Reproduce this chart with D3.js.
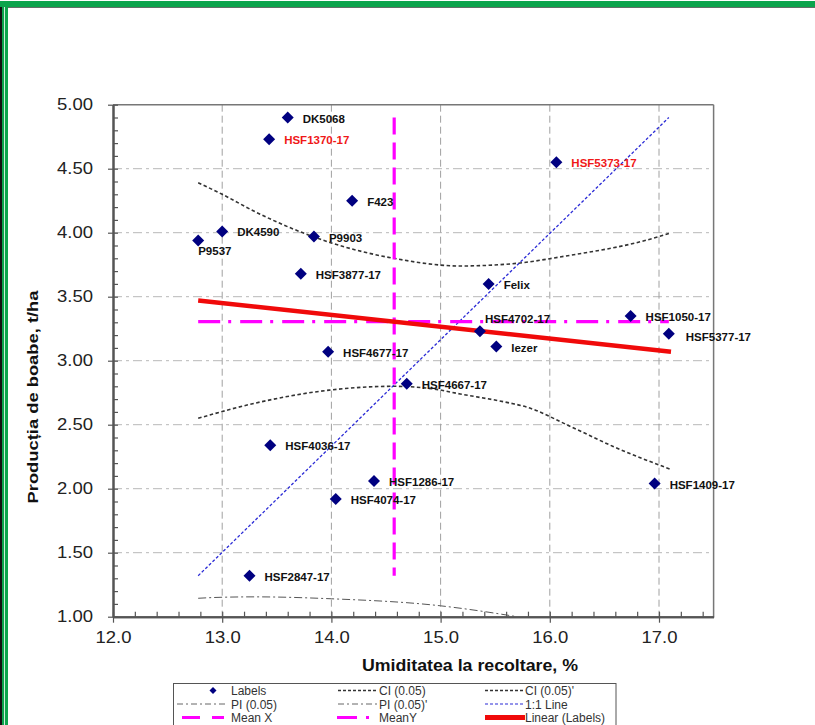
<!DOCTYPE html>
<html><head><meta charset="utf-8">
<script src="https://cdn.jsdelivr.net/npm/d3@7"></script>
<style>body{margin:0;background:#fff}</style>
</head><body><svg id="c" width="815" height="725"></svg>
<script>
// ---------------- DATA ----------------
const names = ["DK5068","HSF1370-17","HSF5373-17","F423","DK4590","P9537","P9903","HSF3877-17","Felix","HSF4702-17","lezer","HSF1050-17","HSF5377-17","HSF1409-17","HSF4677-17","HSF4667-17","HSF4036-17","HSF1286-17","HSF4074-17","HSF2847-17"];
const moisture = [13.60,13.43,16.06,14.19,13.00,12.78,13.84,13.72,15.44,15.36,15.51,16.74,17.09,16.96,13.97,14.69,13.44,14.39,14.04,13.25];
const yieldT   = [4.90,4.73,4.55,4.25,4.01,3.94,3.97,3.68,3.60,3.23,3.11,3.35,3.21,2.04,3.07,2.82,2.34,2.06,1.92,1.32];
const highlighted = ["HSF1370-17","HSF5373-17"];

const xTickValues = [12,13,14,15,16,17];
const yTickValues = [1,1.5,2,2.5,3,3.5,4,4.5,5];

const ciUpperX = [12.78,13.00,13.31,14.00,14.57,15.18,15.69,16.09,17.00,17.11];
const ciUpperY = [4.39,4.30,4.16,3.92,3.80,3.74,3.76,3.81,3.97,4.00];
const ciLowerX = [12.78,13.31,13.98,14.57,14.93,15.18,15.63,15.78,16.18,16.58,17.11];
const ciLowerY = [2.55,2.67,2.77,2.80,2.78,2.74,2.67,2.64,2.49,2.33,2.15];
const piLowerX = [12.78,13.00,13.30,14.00,15.00,15.40,15.70];
const piLowerY = [1.144,1.152,1.155,1.14,1.085,1.04,1.00];
const oneToOneX = [12.78,17.09];
const oneToOneY = [1.32,4.90];
const linearX = [12.78,17.11];
const linearY = [3.47,3.07];
const meanXValue = 14.575;
const meanYValue = 3.305;

const legendLabels = [["Labels","CI (0.05)","CI (0.05)'"],["PI (0.05)","PI (0.05)'","1:1 Line"],["Mean X","MeanY","Linear (Labels)"]];
const xTitle = "Umiditatea la recoltare, %";
const yTitle = "Producția de boabe, t/ha";

// ---------------- LAYOUT ----------------
const FONT = "'Liberation Sans', Arial, sans-serif";
const svg = d3.select("#c");
const L = 113, R = 713.6, T = 104.7, B = 616.7;
const x = d3.scaleLinear().domain([12,17.5]).range([L,R]);
const y = d3.scaleLinear().domain([1,5]).range([B,T]);

// frame
svg.append("rect").attr("x",0).attr("y",0).attr("width",815).attr("height",725).attr("fill","#fff");
svg.append("rect").attr("x",0).attr("y",1).attr("width",815).attr("height",6).attr("fill","#0ba44c");
svg.append("rect").attr("x",8).attr("y",7).attr("width",807).attr("height",0.8).attr("fill","#3b4a40");
svg.append("rect").attr("x",0).attr("y",7).attr("width",2).attr("height",718).attr("fill","#111");
svg.append("rect").attr("x",2).attr("y",7).attr("width",2.2).attr("height",718).attr("fill","#0ba44c");
svg.append("rect").attr("x",5).attr("y",7).attr("width",3).attr("height",718).attr("fill","#0ba44c");

svg.append("defs").append("clipPath").attr("id","plotclip")
  .append("rect").attr("x",L).attr("y",T).attr("width",R-L).attr("height",B-T);

// grid
const grid = svg.append("g");
[1.5,2,2.5,3,3.5,4,4.5].forEach(v=>{
  grid.append("line").attr("x1",L).attr("x2",R).attr("y1",y(v)).attr("y2",y(v))
    .attr("stroke","#b8b8b8").attr("stroke-width",1).attr("stroke-dasharray","9,4,3,4");
});
[13,14,15,16,17].forEach(v=>{
  grid.append("line").attr("y1",T).attr("y2",B).attr("x1",x(v)).attr("x2",x(v))
    .attr("stroke","#a0a0a0").attr("stroke-width",1).attr("stroke-dasharray","7,4");
});

// border top/right
svg.append("line").attr("x1",L).attr("x2",R).attr("y1",T).attr("y2",T).attr("stroke","#777").attr("stroke-width",1.5);
svg.append("line").attr("x1",R).attr("x2",R).attr("y1",T).attr("y2",B).attr("stroke","#777").attr("stroke-width",1.5);

// axes
const yMinor = d3.range(1,5.001,0.1);
const xMinor = d3.range(12,17.501,0.2);
const gy = svg.append("g").attr("transform",`translate(${L},0)`)
  .call(d3.axisLeft(y).tickValues(yTickValues).tickFormat(d3.format(".2f")).tickSize(5).tickSizeOuter(0).tickPadding(15));
const gy2 = svg.append("g").attr("transform",`translate(${L},0)`)
  .call(d3.axisLeft(y).tickValues(yMinor).tickFormat("").tickSize(-5).tickSizeOuter(0));
const gx = svg.append("g").attr("transform",`translate(0,${B})`)
  .call(d3.axisBottom(x).tickValues(xTickValues).tickFormat(d3.format(".1f")).tickSize(6).tickSizeOuter(0).tickPadding(9));
const gx2 = svg.append("g").attr("transform",`translate(0,${B})`)
  .call(d3.axisBottom(x).tickValues(xMinor).tickFormat("").tickSize(-5).tickSizeOuter(0));
[gy,gy2,gx,gx2].forEach(g=>{
  g.selectAll(".domain").attr("stroke","#555").attr("stroke-width",2);
  g.selectAll(".tick line").attr("stroke","#555").attr("stroke-width",1.2);
  g.selectAll(".tick text").attr("font-family",FONT).attr("font-size",16.5).attr("fill","#222");
});
// slight horizontal stretch of tick labels, as in the reference
[gy,gx].forEach(g=>g.selectAll(".tick text").each(function(){
  const w = this.getComputedTextLength();
  d3.select(this).attr("textLength",w*1.12).attr("lengthAdjust","spacingAndGlyphs");
}));

// titles
svg.append("text").attr("x",470).attr("y",671).attr("text-anchor","middle")
  .attr("font-family",FONT).attr("font-weight","bold").attr("font-size",16).attr("fill","#111")
  .attr("textLength",216).attr("lengthAdjust","spacingAndGlyphs").text(xTitle);
svg.append("text").attr("transform","translate(38,397) rotate(-90)").attr("text-anchor","middle")
  .attr("font-family",FONT).attr("font-weight","bold").attr("font-size",15.5).attr("fill","#111")
  .attr("textLength",213).attr("lengthAdjust","spacingAndGlyphs").text(yTitle);

// curves
const plot = svg.append("g").attr("clip-path","url(#plotclip)");
const lineGen = d3.line().x(d=>x(d[0])).y(d=>y(d[1]));
const smooth = d3.line().x(d=>x(d[0])).y(d=>y(d[1])).curve(d3.curveMonotoneX);
const zip = (a,b)=>a.map((v,i)=>[v,b[i]]);

plot.append("path").datum(zip(piLowerX,piLowerY)).attr("d",smooth).attr("fill","none")
  .attr("stroke","#555").attr("stroke-width",1).attr("stroke-dasharray","8,3,2,3");
plot.append("path").datum(zip(ciUpperX,ciUpperY)).attr("d",smooth).attr("fill","none")
  .attr("stroke","#333").attr("stroke-width",1.6).attr("stroke-dasharray","3.5,2.5");
plot.append("path").datum(zip(ciLowerX,ciLowerY)).attr("d",smooth).attr("fill","none")
  .attr("stroke","#333").attr("stroke-width",1.6).attr("stroke-dasharray","3.5,2.5");
plot.append("path").datum(zip(oneToOneX,oneToOneY)).attr("d",lineGen).attr("fill","none")
  .attr("stroke","#2b2bd6").attr("stroke-width",1.3).attr("stroke-dasharray","3,2");
// mean X (vertical, spans min..max of yield)
plot.append("line").attr("x1",x(meanXValue)).attr("x2",x(meanXValue))
  .attr("y1",y(d3.max(yieldT))).attr("y2",y(d3.min(yieldT)))
  .attr("stroke","#ff00ff").attr("stroke-width",3.2).attr("stroke-dasharray","17,8");
// mean Y (horizontal, spans min..max of moisture)
plot.append("line").attr("y1",y(meanYValue)).attr("y2",y(meanYValue))
  .attr("x1",x(d3.min(moisture))).attr("x2",x(d3.max(moisture)))
  .attr("stroke","#ff00ff").attr("stroke-width",3.2).attr("stroke-dasharray","22,8,3,9");
// regression
plot.append("path").datum(zip(linearX,linearY)).attr("d",lineGen).attr("fill","none")
  .attr("stroke","#f00a0a").attr("stroke-width",4.5);

// points
const pts = names.map((n,i)=>({name:n,x:moisture[i],y:yieldT[i]}));
const diamond = s=>`M0,${-s}L${s},0L0,${s}L${-s},0Z`;
svg.append("g").selectAll("path").data(pts).join("path")
  .attr("transform",d=>`translate(${x(d.x)},${y(d.y)})`)
  .attr("d",diamond(6)).attr("fill","#000080");

// labels
const labelOffset = {"P9537":[0,15,"start"],"HSF4702-17":[5,-8,"start"],"HSF5377-17":[17,7,"start"]};
svg.append("g").selectAll("text").data(pts).join("text")
  .attr("x",d=>x(d.x)+(labelOffset[d.name]?labelOffset[d.name][0]:15))
  .attr("y",d=>y(d.y)+(labelOffset[d.name]?labelOffset[d.name][1]:5))
  .attr("font-family",FONT).attr("font-weight","bold").attr("font-size",11.5)
  .attr("fill",d=>highlighted.includes(d.name)?"#f01818":"#111")
  .text(d=>d.name);

// legend
const lg = svg.append("g");
lg.append("rect").attr("x",173.5).attr("y",683.5).attr("width",442.5).attr("height",45)
  .attr("fill","#fff").attr("stroke","#555").attr("stroke-width",1);
const rowsY = [690.5,704,717.5];
const colLineX = [[177,228],[338,377],[485,523]];
const colTextX = [231,379,525];
const styles = [
  [{type:"dot"},{c:"#333",w:1.4,d:"3,2"},{c:"#333",w:1.4,d:"3,2"}],
  [{c:"#666",w:1,d:"6,3,2,3"},{c:"#666",w:1,d:"6,3,2,3"},{c:"#2b2bd6",w:1.2,d:"3,2"}],
  [{c:"#ff00ff",w:3,d:"18,12,12,100",x0:182},{c:"#ff00ff",w:3,d:"20,9,3,100",x0:337},{c:"#f00a0a",w:5,d:null,x0:485,x1:525}]
];
legendLabels.forEach((row,ri)=>{
  row.forEach((lab,ci)=>{
    const st = styles[ri][ci];
    if(st.type==="dot"){
      lg.append("path").attr("transform",`translate(213,${rowsY[ri]})`).attr("d",diamond(3.5)).attr("fill","#000080");
    } else {
      lg.append("line").attr("x1",st.x0||colLineX[ci][0]).attr("x2",st.x1||colLineX[ci][1])
        .attr("y1",rowsY[ri]).attr("y2",rowsY[ri]).attr("stroke",st.c).attr("stroke-width",st.w)
        .attr("stroke-dasharray",st.d);
    }
    lg.append("text").attr("x",colTextX[ci]).attr("y",rowsY[ri]+4.5)
      .attr("font-family",FONT).attr("font-size",12).attr("fill","#333").text(lab);
  });
});
</script></body></html>
